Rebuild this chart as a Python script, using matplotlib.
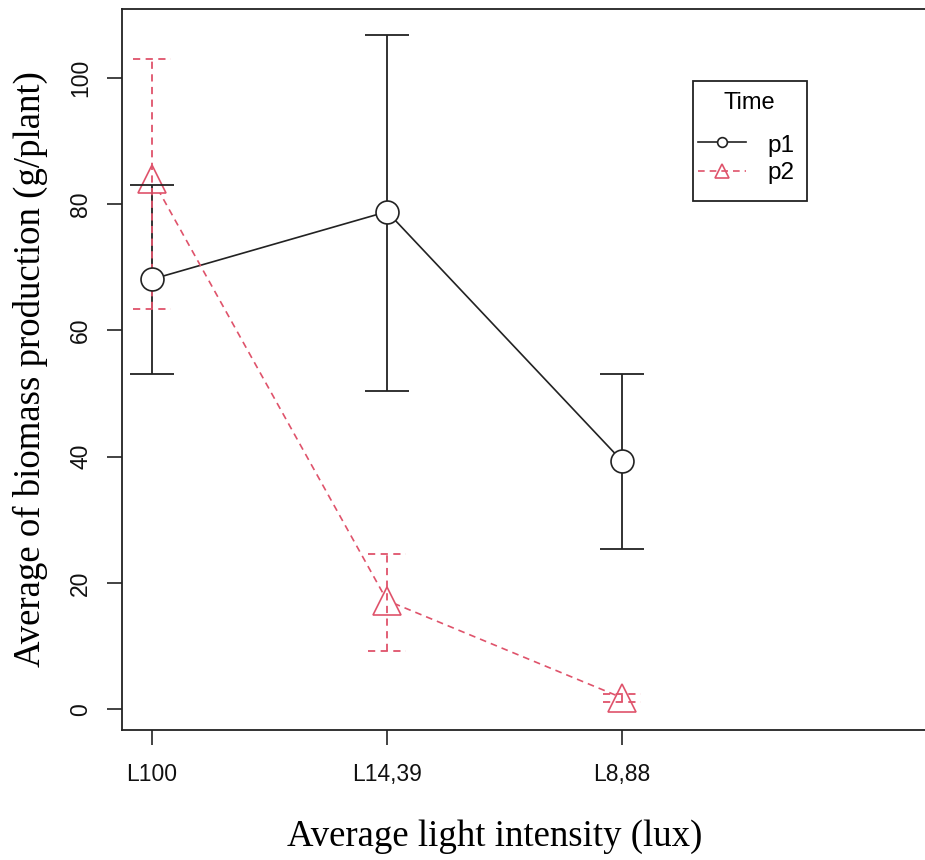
import matplotlib.pyplot as plt
from matplotlib.lines import Line2D
from matplotlib.patches import Rectangle

# light levels on the x axis
levels = ["L100", "L14,39", "L8,88"]

# biomass means and error-bar limits, per time point
p1_mean = [68.1, 78.8, 39.3]
p1_low = [53.1, 50.4, 25.4]
p1_high = [83.0, 106.8, 53.1]

p2_mean = [84.0, 17.2, 1.8]
p2_low = [63.4, 9.2, 1.1]
p2_high = [103.0, 24.6, 2.4]

yticks = [0, 20, 40, 60, 80, 100]

pink = "#DF536B"
dark = "#222222"
W, H = 925, 860


def fig_xy(px, py):
    # pixel position (top-left origin) -> figure fraction
    return px / W, 1 - py / H


fig = plt.figure(figsize=(W / 100, H / 100), dpi=100)
# the right side of the box is cut off in the reference, so let it run past the figure
ax = fig.add_axes([122 / W, 130 / H, 876 / W, 721 / H])

x = list(range(1, len(levels) + 1))
dash = (0, (4, 3))

# connecting lines
ax.plot(x, p1_mean, color=dark, lw=1.2, zorder=1)
ax.plot(x, p2_mean, color=pink, lw=1.2, ls=dash, zorder=1)

# p2 triangles
ax.plot(x, p2_mean, ls="none", marker="^", ms=20, mfc="white", mec=pink, mew=1.2, zorder=2)

# error bars
cap1 = 0.095
ax.vlines(x, p1_low, p1_high, color=dark, lw=1.3, zorder=3)
ax.hlines(p1_low, [v - cap1 for v in x], [v + cap1 for v in x], color=dark, lw=1.3, zorder=3)
ax.hlines(p1_high, [v - cap1 for v in x], [v + cap1 for v in x], color=dark, lw=1.3, zorder=3)

cap2 = 0.08
ax.vlines(x, p2_low, p2_high, color=pink, lw=1.3, linestyles=dash, zorder=3)
ax.hlines(p2_low, [v - cap2 for v in x], [v + cap2 for v in x], color=pink, lw=1.3, linestyles=dash, zorder=3)
ax.hlines(p2_high, [v - cap2 for v in x], [v + cap2 for v in x], color=pink, lw=1.3, linestyles=dash, zorder=3)

# p1 circles on top
ax.plot(x, p1_mean, ls="none", marker="o", ms=16.5, mfc="white", mec=dark, mew=1.2, zorder=4)

ax.set_xlim(0.872, 0.872 + 876 / 235)
ax.set_ylim(-3.3, 110.9)
ax.set_xticks(x)
ax.set_xticklabels(levels)
ax.set_yticks(yticks)
ax.set_yticklabels([str(v) for v in yticks])

ax.tick_params(axis="both", direction="out", length=11, width=1.2, color=dark,
               labelsize=16.5, labelcolor="#111111")
ax.tick_params(axis="x", pad=13)
ax.tick_params(axis="y", pad=10.5, labelrotation=90)
for lab in ax.get_xticklabels() + ax.get_yticklabels():
    lab.set_fontfamily("Liberation Sans")
for lab in ax.get_yticklabels():
    lab.set_va("center")

for sp in ax.spines.values():
    sp.set_linewidth(1.3)
    sp.set_color(dark)

ax.set_xlabel("Average light intensity (lux)", fontsize=26.5, family="Liberation Serif", va="center")
ax.xaxis.set_label_coords((495 - 122) / 876, (730 - 837) / 721)
ax.set_ylabel("Average of biomass production (g/plant)", fontsize=26.5, family="Liberation Serif", va="center")
ax.yaxis.set_label_coords((30 - 122) / 876, 0.5)

# legend, drawn by hand to match the R layout
x0, y0 = fig_xy(693, 201)
x1, y1 = fig_xy(807, 81)
fig.add_artist(Rectangle((x0, y0), x1 - x0, y1 - y0, transform=fig.transFigure,
                         fill=False, edgecolor=dark, lw=1.3))
tx, ty = fig_xy(749, 103)
fig.text(tx, ty, "Time", ha="center", va="center", fontsize=17, family="Liberation Sans")

entries = [("p1", dark, "-", "o", 7, "white", 142, 146),
           ("p2", pink, dash, "^", 10, "none", 171, 173)]
for name, col, ls, mk, ms, fc, ly, ty_px in entries:
    la, lb = fig_xy(698, ly)
    lc, _ = fig_xy(746, ly)
    fig.add_artist(Line2D([la, lc], [lb, lb], transform=fig.transFigure, color=col, lw=1.2, ls=ls))
    mx, _ = fig_xy(722, ly)
    fig.add_artist(Line2D([mx], [lb], transform=fig.transFigure, ls="none", marker=mk, ms=ms,
                          mfc=fc, mec=col, mew=1.2))
    px_, py_ = fig_xy(767, ty_px)
    fig.text(px_, py_, name, ha="left", va="center", fontsize=17.5, family="Liberation Sans")

fig.savefig("out.png", dpi=100)
